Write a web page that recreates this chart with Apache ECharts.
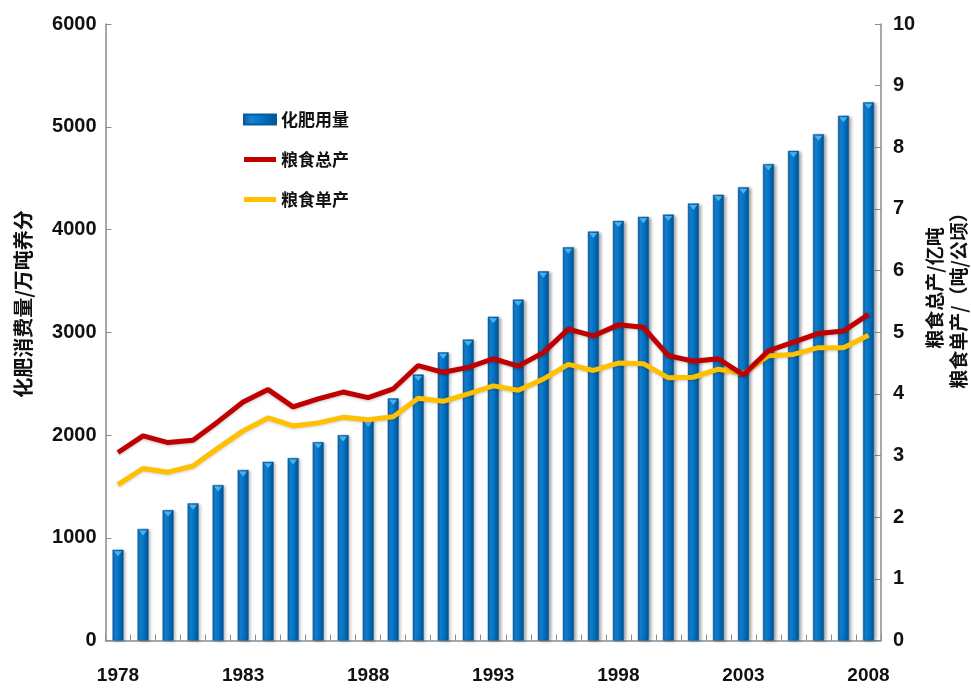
<!DOCTYPE html>
<html>
<head>
<meta charset="utf-8">
<script src="https://cdn.jsdelivr.net/npm/echarts@6/dist/echarts.min.js"></script>
<style>
html,body{margin:0;padding:0;background:#fff;}
#chart{width:971px;height:689px;}
</style>
</head>
<body>
<div id="chart"></div>
<script>
const years = ['1978','1979','1980','1981','1982','1983','1984','1985','1986','1987','1988','1989','1990','1991','1992','1993','1994','1995','1996','1997','1998','1999','2000','2001','2002','2003','2004','2005','2006','2007','2008'];
// 化肥用量 (万吨养分)
const fertilizer = [884,1086,1269,1335,1513,1660,1740,1776,1931,1999,2142,2357,2590,2805,2930,3152,3318,3594,3828,3981,4084,4124,4146,4254,4339,4412,4637,4766,4928,5108,5239];
// 粮食总产 (亿吨)
const grainTotal = [3.05,3.32,3.21,3.25,3.55,3.87,4.07,3.79,3.92,4.03,3.94,4.08,4.46,4.35,4.43,4.57,4.45,4.67,5.05,4.94,5.12,5.08,4.62,4.53,4.57,4.31,4.70,4.84,4.98,5.02,5.29];
// 粮食单产 (吨/公顷)
const grainYield = [2.53,2.79,2.73,2.83,3.12,3.40,3.61,3.48,3.53,3.62,3.58,3.63,3.93,3.88,4.00,4.13,4.06,4.24,4.48,4.38,4.50,4.49,4.26,4.27,4.40,4.33,4.62,4.64,4.75,4.75,4.95];
const xLabelYears = ['1978','1983','1988','1993','1998','2003','2008'];
const leftTicks = [0,1000,2000,3000,4000,5000,6000];
const rightTicks = [0,1,2,3,4,5,6,7,8,9,10];

const numFont = "'Liberation Sans', Arial, sans-serif";
const narrowFont = "'Liberation Sans Narrow', 'Arial Narrow', 'Liberation Sans', sans-serif";
const cjkFont = "'Noto Sans CJK SC', sans-serif";

const chart = echarts.init(document.getElementById('chart'));
const barGrad = new echarts.graphic.LinearGradient(0,0,1,0,[
  {offset:0,color:'#0B5DA3'},
  {offset:0.25,color:'#1582D2'},
  {offset:0.6,color:'#0070C0'},
  {offset:1,color:'#00518F'}
]);
const lineIcon = 'path://M0,0H32V5H0Z';
chart.setOption({
  backgroundColor:'#ffffff',
  animation:false,
  grid:{left:105.5,right:90,top:24,bottom:48.5,containLabel:false},
  legend:{
    orient:'vertical',left:238,top:106,itemWidth:32,itemHeight:10,itemGap:23,
    symbolKeepAspect:true,
    textStyle:{fontFamily:cjkFont,fontWeight:'bold',fontSize:17,color:'#111'},
    data:[
      {name:'化肥用量',icon:'rect'},
      {name:'粮食总产',icon:lineIcon},
      {name:'粮食单产',icon:lineIcon}
    ]
  },
  xAxis:{
    type:'category',data:years,boundaryGap:true,
    axisLine:{lineStyle:{color:'#8c8c8c',width:1.5}},
    axisTick:{show:true,inside:true,length:6,interval:0,lineStyle:{color:'#8c8c8c'}},
    axisLabel:{
      interval:0,margin:26,
      fontFamily:narrowFont,fontWeight:'bold',fontSize:19,color:'#111',
      formatter:function(v){return xLabelYears.indexOf(v)>=0?v:'';}
    },
    splitLine:{show:false}
  },
  yAxis:[
    {type:'value',min:leftTicks[0],max:leftTicks[leftTicks.length-1],interval:1000,
     axisLine:{show:true,lineStyle:{color:'#8c8c8c',width:1.5}},
     axisTick:{show:true,inside:true,length:6,lineStyle:{color:'#8c8c8c'}},
     axisLabel:{margin:9,fontFamily:numFont,fontWeight:'bold',fontSize:20,color:'#111',
       formatter:function(v){return String(v);}},
     splitLine:{show:false}},
    {type:'value',min:rightTicks[0],max:rightTicks[rightTicks.length-1],interval:1,position:'right',
     axisLine:{show:true,lineStyle:{color:'#8c8c8c',width:1.5}},
     axisTick:{show:true,inside:true,length:6,lineStyle:{color:'#8c8c8c'}},
     axisLabel:{margin:12,fontFamily:numFont,fontWeight:'bold',fontSize:20,color:'#111',
       formatter:function(v){return String(v);}},
     splitLine:{show:false}}
  ],
  series:[
    {name:'化肥用量',type:'bar',yAxisIndex:0,data:fertilizer,barWidth:11,
     itemStyle:{color:barGrad,borderColor:'#0A5A9A',borderWidth:0.5,
       shadowColor:'rgba(0,0,0,0.35)',shadowBlur:3,shadowOffsetX:2,shadowOffsetY:1},z:2},
    {name:'bartop',type:'scatter',yAxisIndex:0,data:fertilizer,symbol:'triangle',symbolRotate:180,
     symbolSize:[8,5],symbolOffset:[0,4],itemStyle:{color:'#5DC2F7'},silent:true,z:3},
    {name:'粮食总产',type:'line',yAxisIndex:1,data:grainTotal,showSymbol:false,symbol:'none',
     lineStyle:{color:'#C00000',width:5,shadowColor:'rgba(0,0,0,0.25)',shadowBlur:3,shadowOffsetY:1},
     itemStyle:{color:'#C00000'},z:5},
    {name:'粮食单产',type:'line',yAxisIndex:1,data:grainYield,showSymbol:false,symbol:'none',
     lineStyle:{color:'#FFC000',width:5,shadowColor:'rgba(0,0,0,0.2)',shadowBlur:3,shadowOffsetY:1},
     itemStyle:{color:'#FFC000'},z:4}
  ],
  graphic:[
    {type:'text',rotation:Math.PI/2,position:[23,304],
     style:{text:'化肥消费量/万吨养分',fontFamily:cjkFont,fontWeight:'bold',fontSize:20,fill:'#111',
       textAlign:'center',textVerticalAlign:'middle'}},
    {type:'text',rotation:Math.PI/2,position:[935,288],
     style:{text:'粮食总产/亿吨',fontFamily:cjkFont,fontWeight:'bold',fontSize:19,fill:'#111',
       textAlign:'center',textVerticalAlign:'middle'}},
    {type:'text',rotation:Math.PI/2,position:[959,296],
     style:{text:'粮食单产/（吨/公顷）',fontFamily:cjkFont,fontWeight:'bold',fontSize:19,fill:'#111',
       textAlign:'center',textVerticalAlign:'middle'}}
  ]
});
</script>
</body>
</html>
